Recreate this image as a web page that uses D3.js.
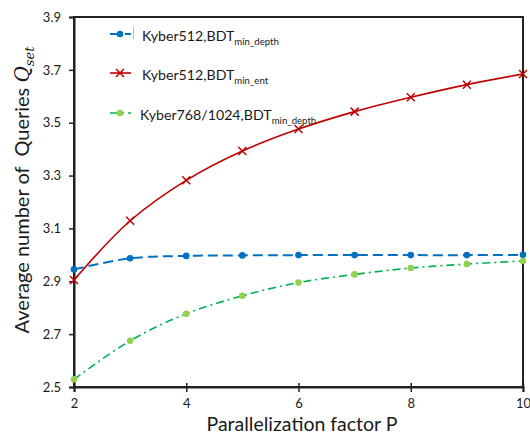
<!DOCTYPE html>
<html>
<head>
<meta charset="utf-8">
<script src="https://cdn.jsdelivr.net/npm/d3@7"></script>
<style>
  body { margin: 0; background: #fff; }
  text { font-family: Lato, "Open Sans", sans-serif; fill: #1a1a1a; }
</style>
</head>
<body>
<div id="chart"></div>
<script>
// data
var pValues = [2, 3, 4, 5, 6, 7, 8, 9, 10];
var kyber512Depth = [2.945, 2.987, 2.996, 2.998, 2.999, 2.999, 2.999, 2.999, 3.0];
var kyber512Ent = [2.905, 3.129, 3.282, 3.393, 3.476, 3.542, 3.596, 3.644, 3.684];
var kyber768Depth = [2.529, 2.675, 2.777, 2.845, 2.895, 2.926, 2.950, 2.965, 2.977];
var xTicks = [2, 4, 6, 8, 10];
var yTicks = [2.5, 2.7, 2.9, 3.1, 3.3, 3.5, 3.7, 3.9];

var width = 530,
    height = 434,
    margin = {top: 17, right: 7, bottom: 47, left: 74};

var svg = d3.select("#chart").append("svg")
    .attr("width", width)
    .attr("height", height);

var x = d3.scaleLinear().domain([2, 10]).range([margin.left, width - margin.right]);
var y = d3.scaleLinear().domain([2.5, 3.9]).range([height - margin.bottom, margin.top]);

// plot frame
svg.append("rect")
    .attr("x", x(2))
    .attr("y", y(3.9))
    .attr("width", x(10) - x(2))
    .attr("height", y(2.5) - y(3.9))
    .attr("fill", "none")
    .attr("stroke", "#222")
    .attr("stroke-width", 2);

// axes
var xAxis = svg.append("g")
    .attr("transform", "translate(0," + y(2.5) + ")")
    .call(d3.axisBottom(x).tickValues(xTicks).tickSize(5).tickPadding(7).tickFormat(d3.format("d")));
xAxis.selectAll(".tick line").attr("y1", -4);

var yAxis = svg.append("g")
    .attr("transform", "translate(" + x(2) + ",0)")
    .call(d3.axisLeft(y).tickValues(yTicks).tickSize(5).tickPadding(8).tickFormat(d3.format(".1f")));

[xAxis, yAxis].forEach(function(a){
    a.select(".domain").attr("stroke", "#222").attr("stroke-width", 2);
    a.selectAll(".tick line").attr("stroke", "#222").attr("stroke-width", 1.5);
    a.selectAll(".tick text").attr("fill", "#1a1a1a").style("font-size", "13px");
});

// axis titles
svg.append("text")
    .attr("x", 302)
    .attr("y", 431)
    .attr("text-anchor", "middle")
    .style("font-size", "19.5px")
    .text("Parallelization factor P");

var yTitle = svg.append("text")
    .attr("transform", "translate(29,190) rotate(-90)")
    .attr("text-anchor", "middle")
    .style("white-space", "pre")
    .style("font-size", "20px");
yTitle.append("tspan").text("Average number of  Queries ");
yTitle.append("tspan").style("font-family", "'DejaVu Serif', serif").style("font-style", "italic").text("Q");
yTitle.append("tspan").attr("dy", 5).style("font-size", "13px")
    .style("font-family", "'DejaVu Serif', serif").style("font-style", "italic").text("set");

// series
var series = [
    {name: "Kyber512,BDT", sub: "min_depth", values: kyber512Depth, line: "#0070C0", marker: "#0070C0", shape: "dot", dash: "10,5", width: 2, ly: 34, tx: 142},
    {name: "Kyber512,BDT", sub: "min_ent", values: kyber512Ent, line: "#C00000", marker: "#C00000", shape: "cross", dash: null, width: 1.6, ly: 73, tx: 142},
    {name: "Kyber768/1024,BDT", sub: "min_depth", values: kyber768Depth, line: "#00B050", marker: "#92D050", shape: "dot", dash: "8,4,2,4", width: 1.6, ly: 113, tx: 140}
];

var line = d3.line()
    .x(function(d){ return x(d[0]); })
    .y(function(d){ return y(d[1]); })
    .curve(d3.curveCatmullRom.alpha(0.5));

function drawMarker(g, s, cx, cy){
    if (s.shape == "dot") {
        g.append("circle")
            .attr("cx", cx).attr("cy", cy).attr("r", 3.3)
            .attr("fill", s.marker);
    } else {
        g.append("path")
            .attr("d", "M" + (cx-4) + "," + (cy-4) + "L" + (cx+4) + "," + (cy+4) +
                       "M" + (cx-4) + "," + (cy+4) + "L" + (cx+4) + "," + (cy-4))
            .attr("stroke", s.marker)
            .attr("stroke-width", 1.5);
    }
}

series.forEach(function(s){
    var pts = pValues.map(function(p, i){ return [p, s.values[i]]; });
    var g = svg.append("g");
    g.append("path")
        .attr("d", line(pts))
        .attr("fill", "none")
        .attr("stroke", s.line)
        .attr("stroke-width", s.width)
        .attr("stroke-dasharray", s.dash);
    pts.forEach(function(d){ drawMarker(g, s, x(d[0]), y(d[1])); });
});

// legend
series.forEach(function(s){
    var g = svg.append("g");
    g.append("line")
        .attr("x1", 110).attr("x2", 131)
        .attr("y1", s.ly).attr("y2", s.ly)
        .attr("stroke", s.line)
        .attr("stroke-width", s.width)
        .attr("stroke-dasharray", s.dash);
    drawMarker(g, s, 120, s.ly);
    var t = g.append("text")
        .attr("x", s.tx)
        .attr("y", s.ly + 7)
        .style("font-size", "14.2px");
    t.append("tspan").text(s.name);
    t.append("tspan").attr("dy", 4).style("font-size", "9.6px").text(s.sub);
});

// small grey mark next to the first legend entry
svg.append("line")
    .attr("x1", 133.5).attr("x2", 133.5)
    .attr("y1", 27).attr("y2", 39)
    .attr("stroke", "#bbb")
    .attr("stroke-width", 1);
</script>
</body>
</html>
